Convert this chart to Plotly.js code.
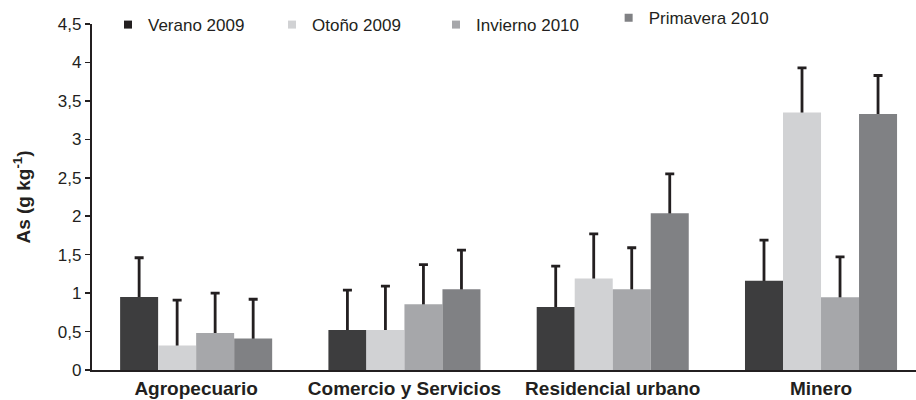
<!DOCTYPE html>
<html>
<head>
<meta charset="utf-8">
<script src="https://cdn.plot.ly/plotly-3.0.1.min.js"></script>
<style>html,body{margin:0;padding:0;background:#fff}#chart{width:916px;height:400px}</style>
</head>
<body>
<div id="chart"></div>
<script>
const categories = ['Agropecuario', 'Comercio y Servicios', 'Residencial urbano', 'Minero'];
const seriesNames = ['Verano 2009', 'Otoño 2009', 'Invierno 2010', 'Primavera 2010'];
const verano = [0.95, 0.52, 0.82, 1.16];
const otono = [0.32, 0.52, 1.19, 3.35];
const invierno = [0.48, 0.855, 1.05, 0.945];
const primavera = [0.41, 1.05, 2.04, 3.33];
const veranoErr = [0.51, 0.52, 0.53, 0.53];
const otonoErr = [0.59, 0.57, 0.58, 0.58];
const inviernoErr = [0.52, 0.515, 0.54, 0.525];
const primaveraErr = [0.51, 0.51, 0.51, 0.50];
const yTicks = [0, 0.5, 1, 1.5, 2, 2.5, 3, 3.5, 4, 4.5];

const values = [verano, otono, invierno, primavera];
const errs = [veranoErr, otonoErr, inviernoErr, primaveraErr];
const colors = ['#3d3d3e', '#d1d2d4', '#a6a7aa', '#808184'];
const legendColors = ['#231f20', '#d1d2d4', '#a6a7aa', '#808184'];
const legendIds = ['legend', 'legend', 'legend', 'legend2'];
const ink = '#231f20';
const font = 'Liberation Sans, Arial, sans-serif';

const traces = [];
// error bars (underneath, on main subplot)
values.forEach((v, i) => {
  traces.push({
    type: 'bar', x: categories, y: v, xaxis: 'x', yaxis: 'y',
    marker: {color: 'rgba(0,0,0,0)'}, showlegend: false, hoverinfo: 'skip',
    error_y: {type: 'data', array: errs[i], symmetric: true, color: ink, thickness: 2.8, width: 4.5}
  });
});
// opaque bars on overlay
values.forEach((v, i) => {
  traces.push({
    type: 'bar', x: categories, y: v, xaxis: 'x2', yaxis: 'y2', name: seriesNames[i],
    marker: {color: colors[i], line: {width: 0}}, showlegend: false
  });
});
// legend entries
seriesNames.forEach((n, i) => {
  traces.push({
    type: 'scatter', mode: 'markers', x: [null], y: [null], name: n, legend: legendIds[i],
    marker: {symbol: 'square', size: 8, color: legendColors[i]}, showlegend: true
  });
});

const xr = [-0.5, 3.456];
const yr = [0, 4.5];
const legFont = {family: font, size: 17, color: ink};
const layout = {
  width: 916, height: 400,
  margin: {l: 92, r: 0, t: 19, b: 30},
  paper_bgcolor: '#fff', plot_bgcolor: 'rgba(0,0,0,0)',
  separators: ', ',
  barmode: 'group', bargap: 0.27, bargroupgap: 0,
  showlegend: true,
  legend: {orientation: 'h', x: 0.0194, xanchor: 'left', y: 0.997, yanchor: 'middle',
    font: legFont, entrywidth: 119, entrywidthmode: 'pixels',
    itemwidth: 30, bgcolor: 'rgba(0,0,0,0)'},
  legend2: {orientation: 'h', x: 0.627, xanchor: 'left', y: 1.017, yanchor: 'middle',
    font: legFont, itemwidth: 30, bgcolor: 'rgba(0,0,0,0)'},
  xaxis: {type: 'category', range: xr, showline: true, linecolor: ink, linewidth: 2.2,
    ticks: '', showgrid: false, zeroline: false,
    tickfont: {family: font, size: 19, color: ink, weight: 'bold'}},
  yaxis: {range: yr, tickvals: yTicks, showline: true, linecolor: ink, linewidth: 2.2,
    ticks: 'outside', ticklen: 5, tickwidth: 1.5, tickcolor: ink, showgrid: false, zeroline: false,
    tickfont: {family: font, size: 17, color: ink},
    title: {text: 'As (g kg<sup>-1</sup>)', font: {family: font, size: 19, color: ink, weight: 'bold'}, standoff: 22}},
  xaxis2: {type: 'category', range: xr, overlaying: 'x', visible: false, showgrid: false, zeroline: false},
  yaxis2: {range: yr, overlaying: 'y', visible: false, showgrid: false, zeroline: false}
};

Plotly.newPlot('chart', traces, layout, {staticPlot: true, displayModeBar: false});
</script>
</body>
</html>
